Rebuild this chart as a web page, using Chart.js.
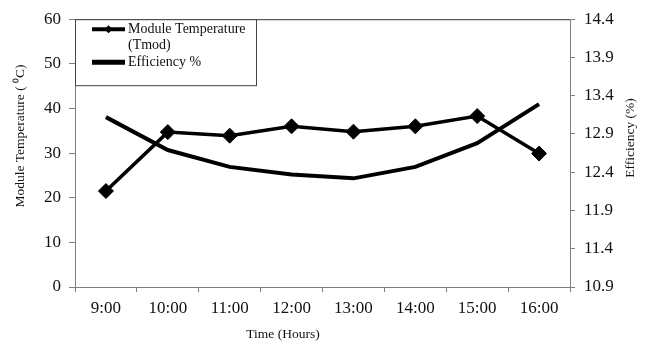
<!DOCTYPE html>
<html>
<head>
<meta charset="utf-8">
<script src="https://cdn.jsdelivr.net/npm/chart.js@4/dist/chart.umd.min.js"></script>
<style>
  html, body { margin: 0; padding: 0; background: #fff; }
  #wrap { width: 646px; height: 342px; position: relative; }
</style>
</head>
<body>
<div id="wrap"><canvas id="c" width="646" height="342"></canvas></div>
<script>
const categories = ['9:00', '10:00', '11:00', '12:00', '13:00', '14:00', '15:00', '16:00'];
const moduleTemperature = [21.5, 34.7, 33.9, 36.0, 34.8, 36.0, 38.3, 29.9];
const efficiency = [13.12, 12.69, 12.47, 12.37, 12.32, 12.47, 12.78, 13.29];
const leftTicks = [0, 10, 20, 30, 40, 50, 60];
const rightTicks = [10.9, 11.4, 11.9, 12.4, 12.9, 13.4, 13.9, 14.4];
const seriesLabels = [['Module Temperature', '(Tmod)'], ['Efficiency %']];
const axisTitles = { x: 'Time (Hours)', left: 'Module Temperature ( \u2070C)', right: 'Efficiency (%)' };

const FONT = '"Liberation Serif", "Times New Roman", serif';
const AXIS_COLOR = '#7f7f7f';

const decorPlugin = {
  id: 'decor',
  afterDatasetsDraw(chart) {
    const ctx = chart.ctx;
    const a = chart.chartArea;
    ctx.save();
    // top border of plot
    ctx.strokeStyle = '#333';
    ctx.lineWidth = 1;
    ctx.beginPath();
    ctx.moveTo(a.left, a.top + 0.5);
    ctx.lineTo(a.right, a.top + 0.5);
    ctx.stroke();

    // legend box
    const bx = a.left + 0.5, by = a.top + 0.5, bw = 181, bh = 66;
    ctx.fillStyle = '#fff';
    ctx.fillRect(bx, by, bw, bh);
    ctx.strokeStyle = '#444';
    ctx.strokeRect(bx, by, bw, bh);

    ctx.font = '14px ' + FONT;
    ctx.fillStyle = '#111';
    ctx.textBaseline = 'middle';
    ctx.textAlign = 'left';
    const sx0 = a.left + 17, sx1 = a.left + 50, tx = a.left + 53;
    // entry 1
    let y = a.top + 10;
    ctx.strokeStyle = '#000';
    ctx.lineWidth = 4;
    ctx.beginPath(); ctx.moveTo(sx0, y); ctx.lineTo(sx1, y); ctx.stroke();
    const cx = (sx0 + sx1) / 2;
    ctx.fillStyle = '#000';
    ctx.beginPath();
    ctx.moveTo(cx - 4, y); ctx.lineTo(cx, y - 4); ctx.lineTo(cx + 4, y); ctx.lineTo(cx, y + 4); ctx.closePath();
    ctx.fill();
    ctx.fillStyle = '#111';
    ctx.fillText(seriesLabels[0][0], tx, y);
    ctx.fillText(seriesLabels[0][1], tx, y + 16);
    // entry 2
    y = a.top + 43;
    ctx.lineWidth = 5;
    ctx.beginPath(); ctx.moveTo(sx0, y); ctx.lineTo(sx1, y); ctx.stroke();
    ctx.fillText(seriesLabels[1][0], tx, y);

    // axis titles
    ctx.font = '13.5px ' + FONT;
    ctx.fillStyle = '#111';
    ctx.textAlign = 'center';
    ctx.fillText(axisTitles.x, 283, 334);
    ctx.save();
    ctx.translate(20, 136);
    ctx.rotate(-Math.PI / 2);
    ctx.fillText(axisTitles.left, 0, 0);
    ctx.restore();
    ctx.save();
    ctx.translate(630, 138);
    ctx.rotate(-Math.PI / 2);
    ctx.fillText(axisTitles.right, 0, 0);
    ctx.restore();
    ctx.restore();
  }
};

new Chart(document.getElementById('c'), {
  type: 'line',
  data: {
    labels: categories,
    datasets: [
      {
        label: seriesLabels[0].join(' '),
        data: moduleTemperature,
        yAxisID: 'y',
        borderColor: '#000',
        backgroundColor: '#000',
        borderWidth: 3.5,
        pointStyle: 'rectRot',
        pointRadius: 7.5,
        pointBorderWidth: 1,
        tension: 0,
        order: 1
      },
      {
        label: seriesLabels[1][0],
        data: efficiency,
        yAxisID: 'y1',
        borderColor: '#000',
        backgroundColor: '#000',
        borderWidth: 4,
        pointRadius: 0,
        tension: 0,
        order: 2
      }
    ]
  },
  options: {
    responsive: false,
    animation: false,
    devicePixelRatio: 1,
    layout: { padding: { top: 15, left: 0, right: 0, bottom: 0 } },
    plugins: { legend: { display: false }, tooltip: { enabled: false } },
    scales: {
      x: {
        type: 'category',
        offset: true,
        grid: { display: true, drawOnChartArea: false, drawTicks: true, tickLength: 5, offset: true, color: AXIS_COLOR },
        border: { display: true, color: AXIS_COLOR, width: 1 },
        ticks: { color: '#111', font: { family: FONT, size: 17 }, padding: 6, maxRotation: 0 },
        afterFit(s) { s.height = 55; }
      },
      y: {
        position: 'left',
        min: 0, max: 60,
        afterBuildTicks(s) { s.ticks = leftTicks.map(v => ({ value: v })); },
        grid: { display: true, drawOnChartArea: false, drawTicks: true, tickLength: 6, color: AXIS_COLOR },
        border: { display: true, color: AXIS_COLOR, width: 1 },
        ticks: { color: '#111', font: { family: FONT, size: 17 }, padding: 8 },
        afterFit(s) { s.width = 75; }
      },
      y1: {
        position: 'right',
        min: 10.9, max: 14.4,
        afterBuildTicks(s) { s.ticks = rightTicks.map(v => ({ value: v })); },
        grid: { display: true, drawOnChartArea: false, drawTicks: true, tickLength: 5, color: AXIS_COLOR },
        border: { display: true, color: AXIS_COLOR, width: 1 },
        ticks: { color: '#111', font: { family: FONT, size: 17 }, padding: 9, callback: v => Number(v).toFixed(1) },
        afterFit(s) { s.width = 76; }
      }
    }
  },
  plugins: [decorPlugin]
});
</script>
</body>
</html>
